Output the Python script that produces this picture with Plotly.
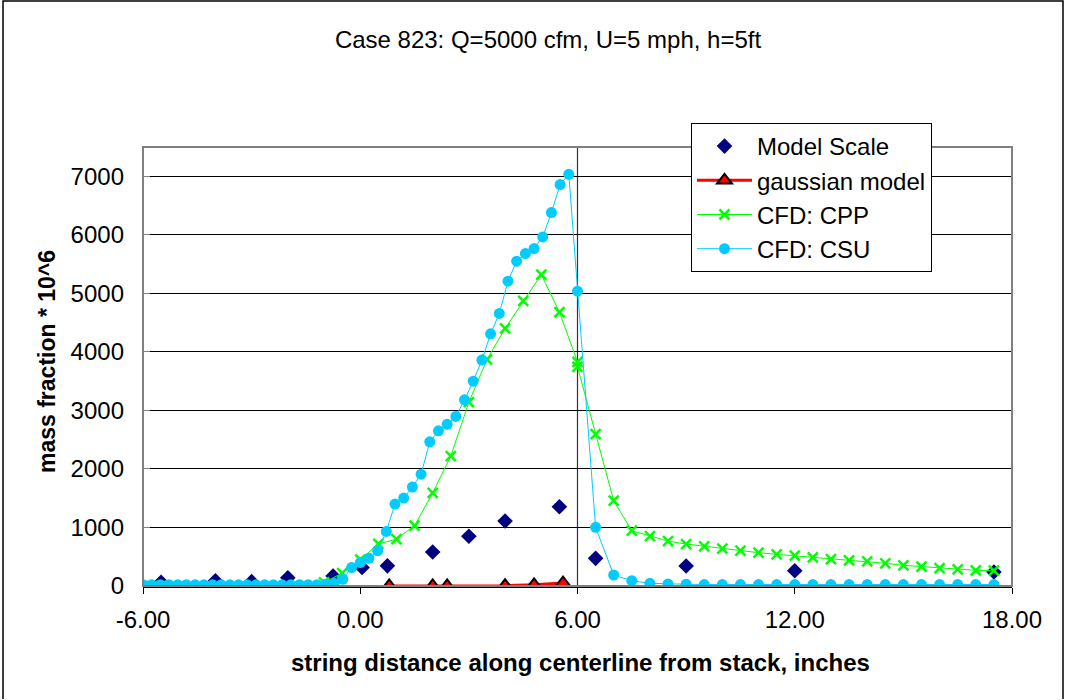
import plotly.graph_objects as go

# ---- data -------------------------------------------------------------
model_x = [-5.5, -4.0, -3.0, -2.0, -0.75, 0.05, 0.75, 2.0, 3.0, 4.0, 5.5, 6.5, 9.0, 12.0, 17.5]
model_y = [63, 90, 74, 142, 171, 315, 344, 580, 850, 1110, 1354, 472, 341, 260, 240]

gauss_x = [0.8, 2.0, 2.4, 4.0, 4.8, 5.6]
gauss_y = [0, 0, 0, 5, 20, 50]

cpp_x = [-6.0, -5.5, -5.0, -4.5, -4.0, -3.5, -3.0, -2.5, -2.0, -1.5, -1.0, -0.5,
         0.0, 0.5, 1.0, 1.5, 2.0, 2.5, 3.0, 3.5, 4.0, 4.5, 5.0, 5.5, 6.0, 6.0,
         6.5, 7.0, 7.5, 8.0, 8.5, 9.0, 9.5, 10.0, 10.5, 11.0, 11.5, 12.0, 12.5,
         13.0, 13.5, 14.0, 14.5, 15.0, 15.5, 16.0, 16.5, 17.0, 17.5]
cpp_y = [0, 0, 0, 0, 0, 0, 0, 0, 0, 10, 60, 220,
         450, 720, 800, 1030, 1590, 2220, 3140, 3870, 4400, 4870, 5320, 4680, 3830, 3744,
         2595, 1457, 944, 854, 768, 717, 677, 638, 603, 569, 541, 517, 490,
         461, 439, 422, 388, 353, 330, 307, 285, 268, 261]

csu_x = [-6.00, -5.76, -5.52, -5.28, -5.04, -4.80, -4.56, -4.32, -4.08, -3.84,
         -3.60, -3.36, -3.12, -2.88, -2.64, -2.40, -2.16, -1.92, -1.68, -1.44,
         -1.20, -0.96, -0.72, -0.48, -0.24, 0.00, 0.24, 0.48, 0.72, 0.96,
         1.20, 1.44, 1.68, 1.92, 2.16, 2.40, 2.64, 2.88, 3.12, 3.36,
         3.60, 3.84, 4.08, 4.32, 4.56, 4.80, 5.04, 5.28, 5.52, 5.76,
         6.00, 6.5, 7.0, 7.5, 8.0, 8.5, 9.0, 9.5, 10.0, 10.5,
         11.0, 11.5, 12.0, 12.5, 13.0, 13.5, 14.0, 14.5, 15.0, 15.5,
         16.0, 16.5, 17.0, 17.5]
csu_y = [20, 20, 20, 20, 20, 20, 20, 20, 20, 20,
         20, 20, 20, 20, 20, 20, 20, 20, 20, 20,
         20, 30, 45, 114, 315, 400, 472, 603, 933, 1400,
         1503, 1690, 1910, 2464, 2652, 2763, 2897, 3180, 3500, 3859,
         4308, 4656, 5207, 5549, 5680, 5765, 5964, 6380, 6858, 7034,
         5037, 1002, 188, 90, 46, 34, 30, 25, 25, 25,
         25, 25, 25, 25, 25, 25, 25, 25, 25, 25,
         25, 25, 25, 25]

x_ticks = [-6, 0, 6, 12, 18]
x_tick_text = ["-6.00", "0.00", "6.00", "12.00", "18.00"]
y_ticks = [0, 1000, 2000, 3000, 4000, 5000, 6000, 7000]

FONT = "Liberation Sans, Arial, sans-serif"

# ---- figure -----------------------------------------------------------
fig = go.Figure()

fig.add_trace(go.Scatter(
    x=model_x, y=model_y, name="Model Scale", mode="markers",
    marker=dict(symbol="diamond", size=12, color="#000080", line=dict(width=0)),
    legendgroup="a",
))
fig.add_trace(go.Scatter(
    x=gauss_x, y=gauss_y, name="gaussian model", mode="lines+markers",
    line=dict(color="#FF0000", width=3),
    marker=dict(symbol="triangle-up", size=13, color="#FF0000",
                line=dict(color="#000000", width=2)),
    legendgroup="b",
))
fig.add_trace(go.Scatter(
    x=cpp_x, y=cpp_y, name="CFD: CPP", mode="lines+markers",
    line=dict(color="#00FF00", width=1),
    marker=dict(symbol="x-thin", size=10, color="#00FF00",
                line=dict(color="#00FF00", width=2.5)),
    legendgroup="c",
))
fig.add_trace(go.Scatter(
    x=csu_x, y=csu_y, name="CFD: CSU", mode="lines+markers",
    line=dict(color="#00CCFF", width=1),
    marker=dict(symbol="circle", size=11, color="#00CCFF", line=dict(width=0)),
    legendgroup="d",
))

L, R, T, B = 143, 53, 147, 114
W, H = 1065, 700
pw, ph = W - L - R, H - T - B


def px_x(p):
    return (p - L) / pw


def px_y(p):
    return (H - B - p) / ph


shapes = [
    # plot frame
    dict(type="rect", xref="paper", yref="paper", x0=0, x1=1, y0=0, y1=1,
         line=dict(color="#808080", width=2), layer="above"),
    # vertical reference line at x = 6
    dict(type="line", xref="x", yref="paper", x0=6, x1=6, y0=0, y1=1,
         line=dict(color="#333333", width=1.2), layer="below"),
    # outer chart border
    dict(type="path", xref="paper", yref="paper",
         path=f"M {px_x(3)},{px_y(699)} L {px_x(3)},{px_y(1)} L {px_x(1063)},{px_y(1)} L {px_x(1063)},{px_y(699)}",
         line=dict(color="#000000", width=1.5)),
]

annotations = [
    dict(text="<b>string distance along centerline from stack, inches</b>",
         xref="paper", yref="paper", x=px_x(580), y=px_y(662),
         showarrow=False, font=dict(family=FONT, size=24, color="#000000"),
         xanchor="center", yanchor="middle"),
    dict(text="<b>mass fraction * 10^6</b>",
         xref="paper", yref="paper", x=px_x(47), y=px_y(362), textangle=-90,
         showarrow=False, font=dict(family=FONT, size=23, color="#000000"),
         xanchor="center", yanchor="middle"),
]

fig.update_layout(
    width=W, height=H,
    margin=dict(l=L, r=R, t=T, b=B),
    paper_bgcolor="white", plot_bgcolor="white",
    font=dict(family=FONT, size=24, color="#000000"),
    title=dict(text="Case 823: Q=5000 cfm, U=5 mph, h=5ft",
               x=548 / W, y=1 - 40 / H, xref="container", yref="container",
               xanchor="center", yanchor="middle",
               font=dict(family=FONT, size=24, color="#000000")),
    showlegend=True,
    legend=dict(x=px_x(691), y=px_y(123), xanchor="left", yanchor="top",
                bgcolor="white", bordercolor="#000000", borderwidth=1,
                font=dict(family=FONT, size=24, color="#000000"),
                itemwidth=55, tracegroupgap=1, traceorder="normal"),
    shapes=shapes,
    annotations=annotations,
)

fig.update_xaxes(
    range=[-6, 18], tickvals=x_ticks, ticktext=x_tick_text,
    showgrid=False, zeroline=False,
    showline=True, linecolor="#000000", linewidth=1.5,
    ticks="outside", ticklen=6, tickcolor="#000000", tickwidth=1,
    ticklabelstandoff=5,
    tickfont=dict(family=FONT, size=24, color="#000000"),
)
fig.update_yaxes(
    range=[0, 7500], tickvals=y_ticks,
    showgrid=True, gridcolor="#000000", gridwidth=1,
    zeroline=False, showline=False,
    ticks="inside", ticklen=7, tickcolor="#808080", tickwidth=1,
    ticklabelstandoff=18,
    tickfont=dict(family=FONT, size=24, color="#000000"),
)

fig.write_html("out.html")
